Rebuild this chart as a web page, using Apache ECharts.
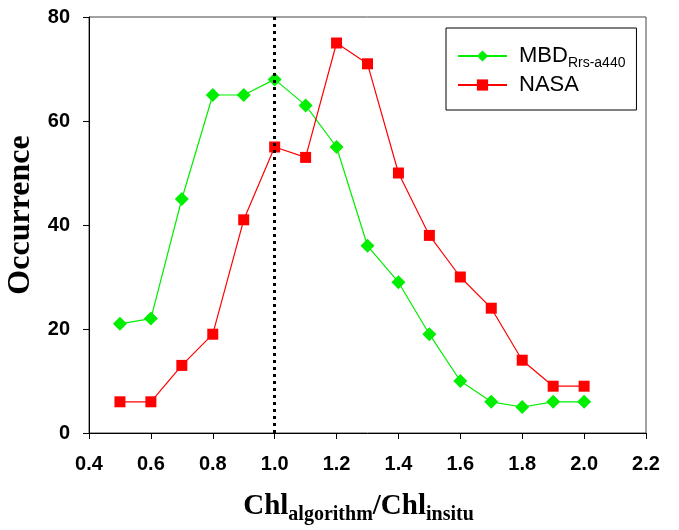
<!DOCTYPE html>
<html>
<head>
<meta charset="utf-8">
<script src="https://cdn.jsdelivr.net/npm/echarts@6/dist/echarts.min.js"></script>
<style>
  html, body { margin: 0; padding: 0; background: #fff; }
  #chart { width: 679px; height: 530px; }
</style>
</head>
<body>
<div id="chart"></div>
<script>
// ratio bins on the x axis
const ratios = [0.5, 0.6, 0.7, 0.8, 0.9, 1.0, 1.1, 1.2, 1.3, 1.4, 1.5, 1.6, 1.7, 1.8, 1.9, 2.0];
const mbdCounts = [21, 22, 45, 65, 65, 68, 63, 55, 36, 29, 19, 10, 6, 5, 6, 6];
const nasaCounts = [6, 6, 13, 19, 41, 55, 53, 75, 71, 50, 38, 30, 24, 14, 9, 9];
const refLine = 1.0;

const chart = echarts.init(document.getElementById('chart'));

function pairs(vals) {
  return ratios.map((r, i) => [r, vals[i]]);
}

const option = {
  animation: false,
  grid: {
    left: 89, right: 33, top: 17, bottom: 97,
    outerBoundsMode: 'none',
    containLabel: false,
    show: true, borderColor: '#444', borderWidth: 1
  },
  legend: {
    orient: 'vertical',
    left: 446, top: 28,
    padding: [14, 11, 14, 11],
    borderColor: '#000', borderWidth: 1,
    itemWidth: 49, itemHeight: 14, itemGap: 4,
    data: ['MBD', 'NASA'],
    formatter: function (name) {
      return name === 'MBD' ? '{m|MBD}{s|Rrs-a440}' : '{m|NASA}';
    },
    textStyle: {
      rich: {
        m: { fontFamily: 'Arial, Liberation Sans', fontSize: 22, color: '#000', lineHeight: 26, padding: [0, 0, 0, 7] },
        s: { fontFamily: 'Arial, Liberation Sans', fontSize: 14, color: '#000', lineHeight: 14, padding: [14, 0, 0, 0] }
      }
    }
  },
  xAxis: {
    type: 'value',
    min: 0.4, max: 2.2, interval: 0.2,
    splitLine: { show: false },
    axisLine: { lineStyle: { color: '#000', width: 1 } },
    axisTick: { length: 6, lineStyle: { color: '#000' } },
    axisLabel: {
      fontFamily: 'Arial, Liberation Sans', fontWeight: 'bold', fontSize: 20, color: '#000', margin: 21,
      formatter: v => v.toFixed(1)
    },
    name: '{b|Chl}{s|algorithm}{b|/Chl}{s|insitu}',
    nameLocation: 'middle',
    nameGap: 59,
    nameTextStyle: {
      padding: [0, 18, 0, 0],
      rich: {
        b: { fontFamily: 'Times New Roman, Liberation Serif', fontWeight: 'bold', fontSize: 29, color: '#000', lineHeight: 30 },
        s: { fontFamily: 'Times New Roman, Liberation Serif', fontWeight: 'bold', fontSize: 20, color: '#000', lineHeight: 20, padding: [16, 0, 0, 0] }
      }
    }
  },
  yAxis: {
    type: 'value',
    min: 0, max: 80, interval: 20,
    splitLine: { show: false },
    axisLine: { show: true, lineStyle: { color: '#000', width: 1 } },
    axisTick: { show: true, length: 6, lineStyle: { color: '#000' } },
    axisLabel: {
      fontFamily: 'Arial, Liberation Sans', fontWeight: 'bold', fontSize: 20, color: '#000', margin: 19
    },
    name: 'Occurrence',
    nameLocation: 'middle',
    nameGap: 43,
    nameTextStyle: {
      padding: [0, 0, 0, 20],
      fontFamily: 'Times New Roman, Liberation Serif', fontWeight: 'bold', fontSize: 32, color: '#000'
    }
  },
  series: [
    {
      name: 'MBD',
      type: 'line',
      data: pairs(mbdCounts),
      symbol: 'diamond',
      symbolSize: 14,
      itemStyle: { color: '#00ee00' },
      lineStyle: { color: '#00ee00', width: 1.2 },
      z: 3,
      markLine: {
        silent: true,
        symbol: 'none',
        label: { show: false },
        lineStyle: { color: '#000', type: [3, 4], width: 3 },
        data: [{ xAxis: refLine }]
      }
    },
    {
      name: 'NASA',
      type: 'line',
      data: pairs(nasaCounts),
      symbol: 'rect',
      symbolSize: 11,
      itemStyle: { color: '#ff0000' },
      lineStyle: { color: '#ff0000', width: 1.2 },
      z: 4
    }
  ]
};

chart.setOption(option);
</script>
</body>
</html>
